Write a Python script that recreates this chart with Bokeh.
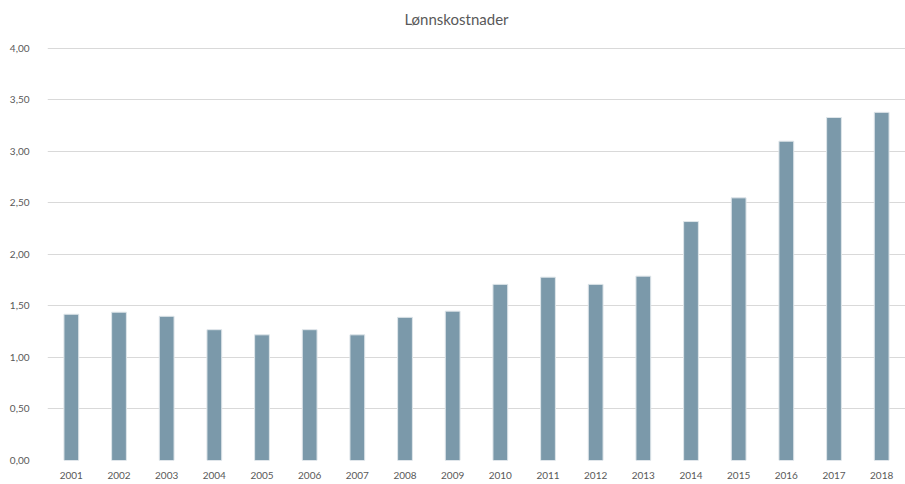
from bokeh.plotting import figure
from bokeh.models import FactorRange, Range1d, CustomJSTickFormatter, FixedTicker, Label
from bokeh.embed import file_html
from bokeh.resources import INLINE

title_text = "Lønnskostnader"
years = [str(y) for y in range(2001, 2019)]
values = [1.42, 1.44, 1.40, 1.27, 1.22, 1.27, 1.22, 1.39, 1.45, 1.71,
          1.78, 1.71, 1.79, 2.32, 2.55, 3.10, 3.33, 3.38]
y_ticks = [0, 0.5, 1.0, 1.5, 2.0, 2.5, 3.0, 3.5, 4.0]

# frame spans the full top so the title can sit inside it; 4,00 gridline stays at the reference height
p = figure(x_range=FactorRange(*years, range_padding=0), y_range=Range1d(0, 4.466),
           width=905, height=484, output_backend="svg", toolbar_location=None,
           min_border_left=47, min_border_right=0,
           min_border_bottom=24, min_border_top=0)

p.vbar(x=years, top=values, width=0.31, fill_color="#7b99aa", line_color="#dfe6ea", line_width=1)

p.add_layout(Label(x=409, y=442, x_units="screen", y_units="screen", text=title_text,
                   text_align="center", text_baseline="middle", text_font="Lato",
                   text_font_size="15px", text_color="#595959"))

p.yaxis.ticker = FixedTicker(ticks=y_ticks)
p.yaxis.formatter = CustomJSTickFormatter(code="return tick.toFixed(2).replace('.', ',');")
for ax in (p.xaxis, p.yaxis):
    ax.axis_line_color = None
    ax.major_tick_line_color = None
    ax.minor_tick_line_color = None
    ax.major_label_text_font = "Lato"
    ax.major_label_text_font_size = "10px"
    ax.major_label_text_color = "#595959"
p.yaxis.major_label_standoff = 12
p.xaxis.major_label_standoff = 5

p.xgrid.grid_line_color = None
p.ygrid.grid_line_color = "#d9d9d9"
p.ygrid.grid_line_width = 1
p.outline_line_color = None
p.background_fill_color = "white"

open("out.html", "w").write(file_html(p, INLINE))
